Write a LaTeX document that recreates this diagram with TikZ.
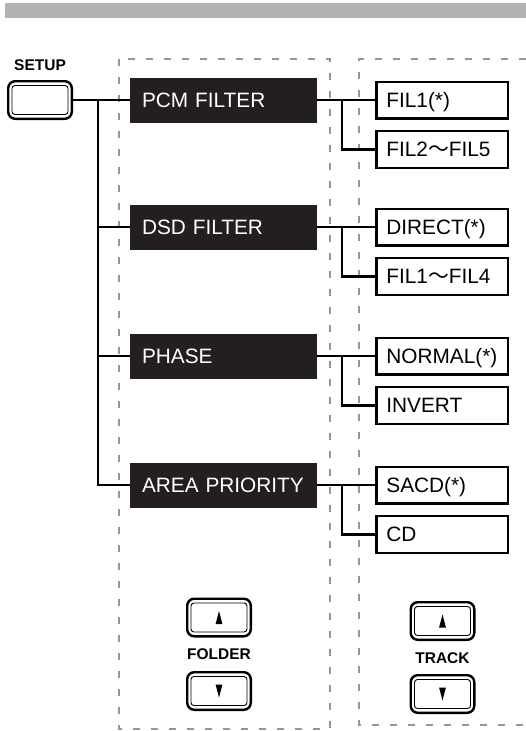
\documentclass[tikz,border=0pt]{standalone}
\usepackage{fontspec}
\setmainfont{Liberation Sans}
\newfontfamily\cjkjp{Noto Sans CJK JP}
\usetikzlibrary{calc,positioning}
\definecolor{barGray}{RGB}{178,178,178}
\definecolor{dashGray}{RGB}{150,150,150}
\definecolor{boxBlack}{RGB}{35,31,32}
\newcommand{\wave}{{\cjkjp ～}}

\begin{document}
\begin{tikzpicture}[x=1pt,y=-1pt,
  menubox/.style={fill=boxBlack,text=white,text width=163pt,inner xsep=12pt,inner ysep=0pt,
        minimum height=45pt,align=left,text height=15pt,text depth=0pt,
        font=\fontsize{20.8}{25}\selectfont},
  optbox/.style={draw,line width=2.4pt,text width=111.6pt,inner xsep=10pt,inner ysep=0pt,
        minimum height=36.6pt,align=left,text height=15pt,text depth=0pt,
        font=\fontsize{20.8}{25}\selectfont},
  keyout/.style={draw,line width=2.4pt,rounded corners=7pt,minimum width=63.6pt,
        minimum height=37.6pt,inner sep=0pt},
  keyin/.style={draw,line width=0.9pt,rounded corners=3pt,minimum width=56pt,
        minimum height=29pt,inner sep=0pt},
  keylabel/.style={font=\bfseries\fontsize{15.5}{18}\selectfont,inner sep=0pt},
  link/.style={line width=2.5pt},
  panel/.style={dashGray,line width=1.3pt,dash pattern=on 7pt off 11pt}]
  \useasboundingbox (0,0) rectangle (526,731);
  % 上部灰条与虚线区
  \fill[barGray] (5,3) rectangle (526,18);
  \draw[panel] (119,59) rectangle (330,729);
  \draw[panel] (526,59) -| (359,725) -- (526,725);
  % SETUP 键
  \node[keylabel] (setuplbl) at (40,65) {SETUP};
  \node[keyout] (setup) at (40,100) {};
  \node[keyin] (setupin) at (setup) {};
  % 菜单项（黑框）
  \node[menubox] (pcm) at (223.5,100) {PCM FILTER};
  \node[menubox] (dsd) at (223.5,227) {DSD FILTER};
  \node[menubox] (phase) at (223.5,356) {PHASE};
  \node[menubox] (area) at (223.5,485) {AREA PRIORITY};
  % 设定值（白框）
  \node[optbox,right=58pt of pcm] (pcm1) {FIL1(*)};
  \node[optbox,below=10.4pt of pcm1] (pcm2) {FIL2\wave FIL5};
  \node[optbox,right=58pt of dsd] (dsd1) {DIRECT(*)};
  \node[optbox,below=10.4pt of dsd1] (dsd2) {FIL1\wave FIL4};
  \node[optbox,right=58pt of phase] (phase1) {NORMAL(*)};
  \node[optbox,below=10.4pt of phase1] (phase2) {INVERT};
  \node[optbox,right=58pt of area] (area1) {SACD(*)};
  \node[optbox,below=10.4pt of area1] (area2) {CD};
  % 主干连线
  \draw[link] (setup.east) -- (pcm.west);
  \coordinate (trunk) at ($(setup.east)!0.44!(pcm.west)$);
  \draw[link] (trunk) |- (area.west);
  \draw[link] (trunk |- dsd.west) -- (dsd.west);
  \draw[link] (trunk |- phase.west) -- (phase.west);
  % 分支连线
  \draw[link] (pcm.east) -- (pcm1.west);
  \draw[link] ($(pcm.east)!0.43!(pcm1.west)$) |- (pcm2.west);
  \draw[link] (dsd.east) -- (dsd1.west);
  \draw[link] ($(dsd.east)!0.43!(dsd1.west)$) |- (dsd2.west);
  \draw[link] (phase.east) -- (phase1.west);
  \draw[link] ($(phase.east)!0.43!(phase1.west)$) |- (phase2.west);
  \draw[link] (area.east) -- (area1.west);
  \draw[link] ($(area.east)!0.43!(area1.west)$) |- (area2.west);
  % FOLDER 键
  \node[keyout] (folderup) at (219,617.5) {};
  \node[keyin] (folderupin) at (folderup) {};
  \fill ($(folderup)+(0,-6.5)$) -- ++(3.4,13) -- ++(-6.8,0) -- cycle;
  \node[keylabel] (folder) at (219,654) {FOLDER};
  \node[keyout] (folderdn) at (219,691) {};
  \node[keyin] (folderdnin) at (folderdn) {};
  \fill ($(folderdn)+(0,6.5)$) -- ++(3.4,-13) -- ++(-6.8,0) -- cycle;
  % TRACK 键
  \node[keyout] (trackup) at (442.5,621) {};
  \node[keyin] (trackupin) at (trackup) {};
  \fill ($(trackup)+(0,-6.5)$) -- ++(3.4,13) -- ++(-6.8,0) -- cycle;
  \node[keylabel] (track) at (442.5,658) {TRACK};
  \node[keyout] (trackdn) at (442.5,694) {};
  \node[keyin] (trackdnin) at (trackdn) {};
  \fill ($(trackdn)+(0,6.5)$) -- ++(3.4,-13) -- ++(-6.8,0) -- cycle;
\end{tikzpicture}
\end{document}
